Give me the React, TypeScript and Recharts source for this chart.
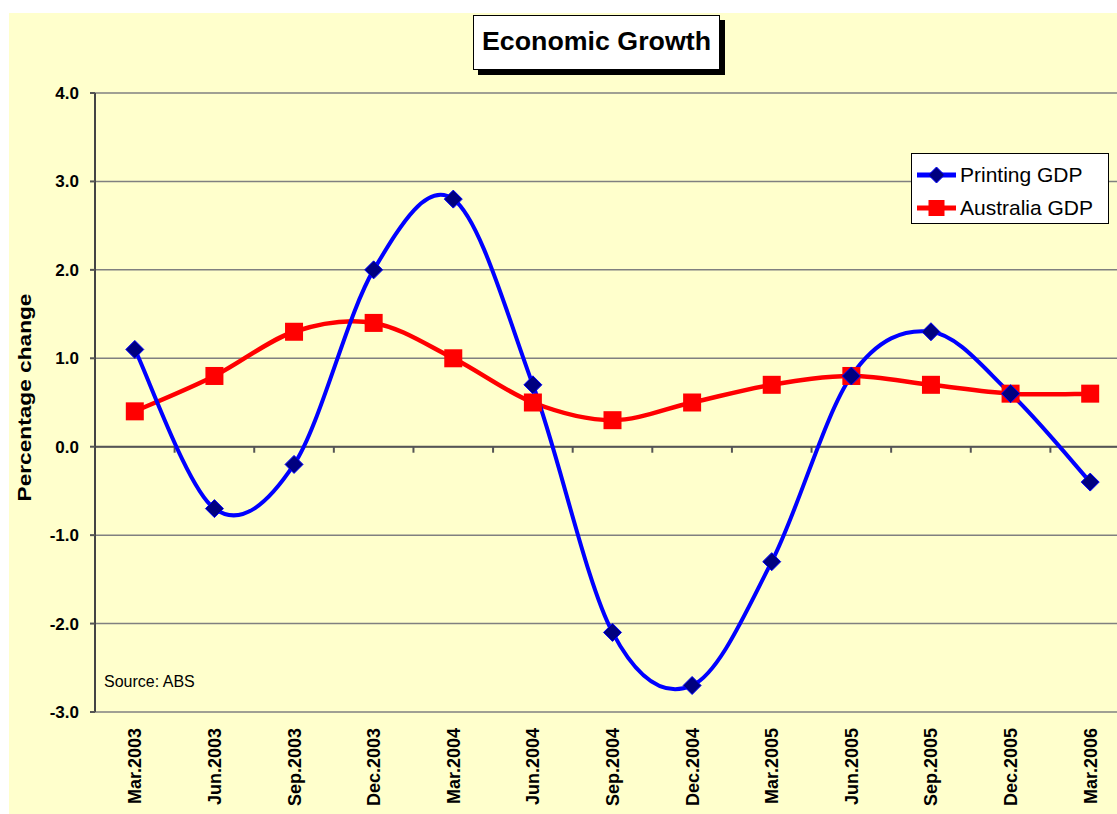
import { LineChart, Line, XAxis, YAxis, CartesianGrid, Legend, ReferenceLine } from "recharts";

const quarters = [
    "Mar.2003", "Jun.2003", "Sep.2003", "Dec.2003", "Mar.2004", "Jun.2004", "Sep.2004",
    "Dec.2004", "Mar.2005", "Jun.2005", "Sep.2005", "Dec.2005", "Mar.2006",
];
const printingGdp = [1.1, -0.7, -0.2, 2.0, 2.8, 0.7, -2.1, -2.7, -1.3, 0.8, 1.3, 0.6, -0.4];
const australiaGdp = [0.4, 0.8, 1.3, 1.4, 1.0, 0.5, 0.3, 0.5, 0.7, 0.8, 0.7, 0.6, 0.6];
const yTicks = [-3, -2, -1, 0, 1, 2, 3, 4];

const data = quarters.map((q, i) => ({ quarter: q, printing: printingGdp[i], australia: australiaGdp[i] }));

const FONT = '"Liberation Sans", Arial, sans-serif';

// Excel-style smoothed line (Catmull-Rom as cubic beziers)
function excelSmooth(context: any) {
    let pts: number[][] = [];
    return {
        areaStart() {},
        areaEnd() {},
        lineStart() { pts = []; },
        lineEnd() {
            const n = pts.length;
            if (!n) return;
            context.moveTo(pts[0][0], pts[0][1]);
            for (let i = 0; i < n - 1; i++) {
                const p0 = pts[Math.max(i - 1, 0)];
                const p1 = pts[i];
                const p2 = pts[i + 1];
                const p3 = pts[Math.min(i + 2, n - 1)];
                context.bezierCurveTo(
                    p1[0] + (p2[0] - p0[0]) / 6, p1[1] + (p2[1] - p0[1]) / 6,
                    p2[0] - (p3[0] - p1[0]) / 6, p2[1] - (p3[1] - p1[1]) / 6,
                    p2[0], p2[1]
                );
            }
        },
        point(x: number, y: number) { pts.push([+x, +y]); },
    };
}

const Diamond = ({ cx, cy, r = 9 }: any) => (
    <path d={`M${cx},${cy - r}L${cx + r},${cy}L${cx},${cy + r}L${cx - r},${cy}Z`} fill="#000080" stroke="#0000FF" strokeWidth={1} />
);
const Square = ({ cx, cy, s = 18 }: any) => (
    <rect x={cx - s / 2} y={cy - s / 2} width={s} height={s} fill="#FF0000" />
);

const XTick = ({ x, y, payload }: any) => (
    <text x={x} y={y} transform={`rotate(-90, ${x}, ${y})`} textAnchor="end" dy="0.36em"
        fontFamily={FONT} fontWeight="bold" fontSize={18} fill="#000">
        {payload.value}
    </text>
);

const ZeroAxis = ({ x1, y1, x2 }: any) => {
    const step = (x2 - x1) / quarters.length;
    return (
        <g>
            <line x1={x1} y1={y1} x2={x2} y2={y1} stroke="#555" strokeWidth={2} />
            {quarters.map((q, i) => i > 0 && (
                <line key={q} x1={x1 + step * i} y1={y1} x2={x1 + step * i} y2={y1 + 6} stroke="#555" strokeWidth={2} />
            ))}
        </g>
    );
};

const legendItems = [
    { name: "Printing GDP", color: "#0000FF", marker: "diamond" },
    { name: "Australia GDP", color: "#FF0000", marker: "square" },
];

const renderLegend = () => (
    <div style={{ width: 198, height: 71, boxSizing: "border-box", background: "#fff", border: "1px solid #000", padding: "4px 0 0 4px", fontFamily: FONT }}>
        {legendItems.map((item) => (
            <div key={item.name} style={{ display: "flex", alignItems: "center", height: 33 }}>
                <svg width={42} height={22} style={{ marginRight: 2 }}>
                    <line x1={1} y1={11} x2={40} y2={11} stroke={item.color} strokeWidth={5} />
                    {item.marker === "diamond" ? <Diamond cx={20.5} cy={11} r={8} /> : <Square cx={20.5} cy={11} s={16} />}
                </svg>
                <span style={{ fontSize: 21, color: "#000" }}>{item.name}</span>
            </div>
        ))}
    </div>
);

export default function App() {
    return (
        <div style={{ position: "absolute", left: 0, top: 0, width: 1117, height: 814, overflow: "hidden", background: "#fff" }}>
            <div style={{ position: "absolute", left: 9, top: 13, right: 0, bottom: 0, background: "#FFFFCC" }} />
            <div style={{ position: "absolute", left: 0, top: 0 }}>
                <LineChart width={1135} height={814} data={data} margin={{ top: 93, right: 5, bottom: 2, left: 0 }}>
                    <CartesianGrid horizontal vertical={false} stroke="#808080" strokeWidth={1.5} />
                    <XAxis dataKey="quarter" scale="band" interval={0} tickLine={false} axisLine={false}
                        height={100} tickSize={6} tick={<XTick />} tickMargin={10} />
                    <YAxis domain={[-3, 4]} ticks={yTicks} width={95} interval={0}
                        tickFormatter={(v: number) => v.toFixed(1)}
                        tick={{ fill: "#000", fontFamily: FONT, fontWeight: "bold", fontSize: 17 }}
                        tickSize={5} tickMargin={11} tickLine={{ stroke: "#555", strokeWidth: 2 }}
                        axisLine={{ stroke: "#444", strokeWidth: 2 }}
                        label={{
                            content: ({ viewBox }: any) => (
                                <text x={viewBox.x + 24} y={viewBox.y + viewBox.height / 2 - 5}
                                    transform={`rotate(-90, ${viewBox.x + 24}, ${viewBox.y + viewBox.height / 2 - 5})`}
                                    textAnchor="middle" dy="0.36em" fontFamily={FONT} fontWeight="bold" fontSize={19}
                                    textLength={208} lengthAdjust="spacingAndGlyphs" fill="#000">
                                    Percentage change
                                </text>
                            ),
                        }}
                    />
                    <ReferenceLine y={0} shape={<ZeroAxis />} />
                    <Legend layout="vertical" align="center" verticalAlign="middle" content={renderLegend}
                        wrapperStyle={{ left: 911, top: 153, width: 198, height: 71 }} />
                    <Line dataKey="australia" name="Australia GDP" type={excelSmooth as any} stroke="#FF0000" strokeWidth={4.5}
                        dot={(p: any) => <Square key={p.index} cx={p.cx} cy={p.cy} />} activeDot={false} isAnimationActive={false} />
                    <Line dataKey="printing" name="Printing GDP" type={excelSmooth as any} stroke="#0000FF" strokeWidth={4}
                        dot={(p: any) => <Diamond key={p.index} cx={p.cx} cy={p.cy} />} activeDot={false} isAnimationActive={false} />
                </LineChart>
            </div>
            <svg style={{ position: "absolute", left: 0, top: 0 }} width={1117} height={90}>
                <rect x={478} y={20} width={247} height={55} fill="#000" />
                <rect x={473.5} y={15.5} width={246} height={54} fill="#fff" stroke="#000" strokeWidth={1} />
                <text x={596.5} y={50} textAnchor="middle" fontFamily={FONT} fontWeight="bold" fontSize={25}
                    textLength={229} lengthAdjust="spacingAndGlyphs" fill="#000">Economic Growth</text>
            </svg>
            <div style={{ position: "absolute", left: 104, top: 673, fontFamily: FONT, fontSize: 16, color: "#000" }}>
                Source: ABS
            </div>
        </div>
    );
}
